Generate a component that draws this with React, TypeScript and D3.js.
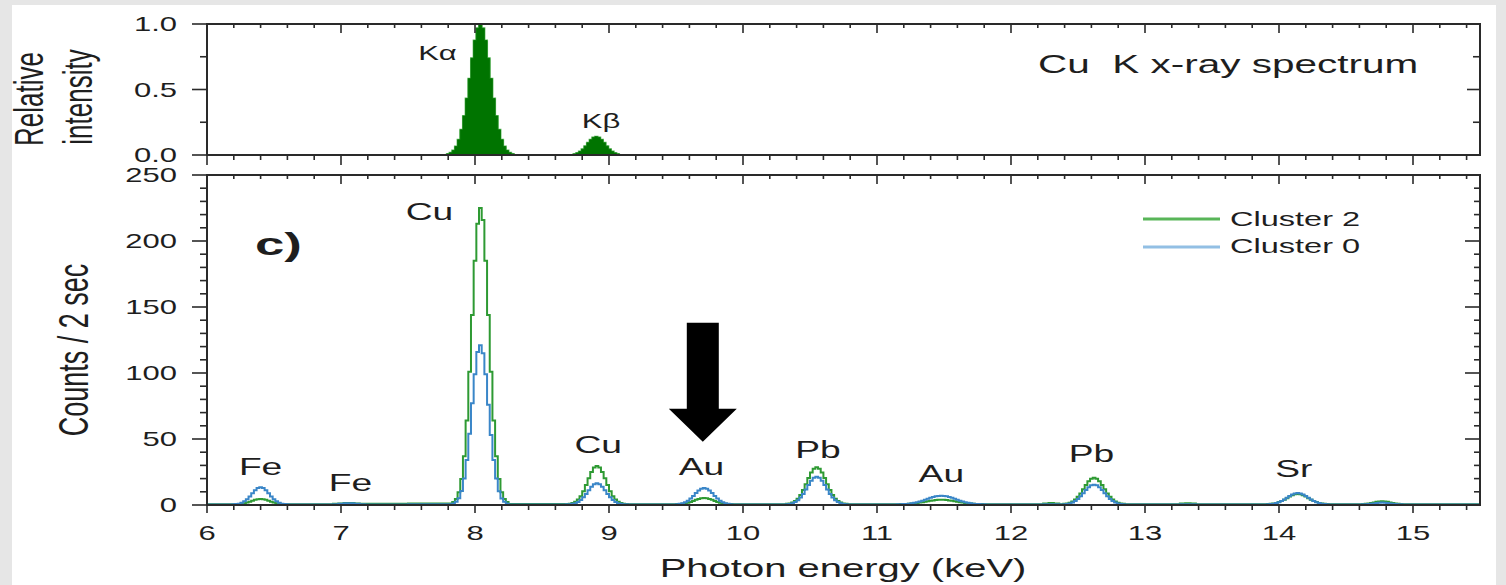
import React from "react";
import * as d3 from "d3";

// ---------- DATA ----------
// Bottom panel: step histogram, bin start energies (keV)
const energyKeV = [
  6.0,
  6.19, 6.21, 6.23, 6.25, 6.27, 6.29, 6.31, 6.33, 6.35, 6.37, 6.39, 6.41, 6.43, 6.45, 6.47, 6.49, 6.51, 6.53, 6.55, 6.57, 6.59,
  6.61,
  6.94, 6.98, 7.02, 7.06, 7.1, 7.14,
  7.18, 7.5,
  7.83, 7.85, 7.87, 7.89, 7.91, 7.93, 7.95, 7.97, 7.99, 8.01, 8.03, 8.05, 8.07, 8.09, 8.11, 8.13, 8.15, 8.17, 8.19, 8.21, 8.23,
  8.25,
  8.68, 8.7, 8.72, 8.74, 8.76, 8.78, 8.8, 8.82, 8.84, 8.86, 8.88, 8.9, 8.92, 8.94, 8.96, 8.98, 9.0, 9.02, 9.04, 9.06, 9.08, 9.1, 9.12,
  9.14,
  9.5, 9.52, 9.54, 9.56, 9.58, 9.6, 9.62, 9.64, 9.66, 9.68, 9.7, 9.72, 9.74, 9.76, 9.78, 9.8, 9.82, 9.84, 9.86, 9.88, 9.9,
  9.92,
  10.32, 10.34, 10.36, 10.38, 10.4, 10.42, 10.44, 10.46, 10.48, 10.5, 10.52, 10.54, 10.56, 10.58, 10.6, 10.62, 10.64, 10.66, 10.68, 10.7, 10.72, 10.74, 10.76,
  10.78,
  11.15, 11.17, 11.19, 11.21, 11.23, 11.25, 11.27, 11.29, 11.31, 11.33, 11.35, 11.37, 11.39, 11.41, 11.43, 11.45, 11.47,
  11.49, 11.51, 11.53, 11.55, 11.57, 11.59, 11.61, 11.63, 11.65, 11.67, 11.69, 11.71, 11.73, 11.75, 11.77, 11.79,
  11.81,
  12.24, 12.28, 12.32,
  12.36,
  12.39, 12.41, 12.43, 12.45, 12.47, 12.49, 12.51, 12.53, 12.55, 12.57, 12.59, 12.61, 12.63, 12.65, 12.67, 12.69, 12.71, 12.73, 12.75, 12.77, 12.79, 12.81, 12.83,
  12.85,
  13.26, 13.3, 13.34,
  13.38,
  13.91, 13.93, 13.95, 13.97, 13.99, 14.01, 14.03, 14.05, 14.07, 14.09, 14.11, 14.13, 14.15, 14.17, 14.19, 14.21, 14.23, 14.25, 14.27, 14.29, 14.31, 14.33, 14.35,
  14.37,
  14.62, 14.64, 14.66, 14.68, 14.7, 14.72, 14.74, 14.76, 14.78, 14.8, 14.82, 14.84, 14.86, 14.88, 14.9,
  14.92,
  15.5,
];

const cluster2Counts = [
  0.6,
  0.6, 0.7, 0.8, 1.0, 1.3, 1.8, 2.5, 3.2, 3.9, 4.4, 4.6, 4.4, 3.9, 3.2, 2.5, 1.8, 1.3, 1.0, 0.8, 0.7, 0.6,
  0.6,
  0.9, 1.2, 1.6, 1.6, 1.2, 0.9,
  1.0, 1.1,
  2.2, 4.6, 9.6, 19.7, 37, 64, 101, 144, 185, 213, 225, 216, 185, 144, 101, 64, 37, 19.7, 9.6, 4.6, 2.2,
  0.8,
  0.7, 1.0, 1.5, 2.4, 4.1, 6.7, 10.5, 15.1, 20.3, 25.0, 28.4, 29.6, 28.4, 25.0, 20.3, 15.1, 10.5, 6.7, 4.1, 2.4, 1.5, 1.0, 0.7,
  0.6,
  0.7, 0.8, 0.9, 1.2, 1.7, 2.3, 3.0, 3.9, 4.6, 5.1, 5.3, 5.1, 4.6, 3.9, 3.0, 2.3, 1.7, 1.2, 0.9, 0.8, 0.7,
  0.6,
  0.9, 1.2, 1.8, 3.0, 4.8, 7.6, 11.3, 15.7, 20.4, 24.6, 27.5, 28.6, 27.5, 24.6, 20.4, 15.7, 11.3, 7.6, 4.8, 3.0, 1.8, 1.2, 0.9,
  0.6,
  0.6, 0.7, 0.7, 0.8, 0.9, 1.1, 1.2, 1.5, 1.8, 2.1, 2.5, 2.8, 3.2, 3.5, 3.8, 3.9, 4.0,
  3.9, 3.8, 3.5, 3.2, 2.8, 2.5, 2.1, 1.8, 1.5, 1.2, 1.1, 0.9, 0.8, 0.7, 0.7, 0.6,
  0.6,
  1.2, 1.6, 1.2,
  0.6,
  0.9, 1.2, 1.7, 2.7, 4.1, 6.2, 8.8, 11.9, 15.1, 17.9, 19.9, 20.6, 19.9, 17.9, 15.1, 11.9, 8.8, 6.2, 4.1, 2.7, 1.7, 1.2, 0.9,
  0.6,
  1.2, 1.4, 1.2,
  0.6,
  0.7, 0.9, 1.1, 1.6, 2.2, 3.0, 4.0, 5.2, 6.4, 7.4, 8.2, 8.4, 8.2, 7.4, 6.4, 5.2, 4.0, 3.0, 2.2, 1.6, 1.1, 0.9, 0.7,
  0.6,
  0.7, 0.9, 1.1, 1.5, 1.9, 2.4, 2.7, 2.8, 2.7, 2.4, 1.9, 1.5, 1.1, 0.9, 0.7,
  0.6,
  0.6,
];

const cluster0Counts = [
  0.4,
  0.5, 0.7, 1.0, 1.7, 2.8, 4.4, 6.5, 8.9, 11.2, 12.8, 13.4, 12.8, 11.2, 8.9, 6.5, 4.4, 2.8, 1.7, 1.0, 0.7, 0.5,
  0.4,
  0.6, 1.0, 1.4, 1.4, 1.0, 0.6,
  0.4, 0.5,
  1.2, 2.5, 5.1, 10.6, 20, 34, 54, 77, 99, 116, 121, 115, 99, 76, 53, 34, 20, 10.4, 5, 2.4, 1.2,
  0.4,
  0.5, 0.6, 0.9, 1.4, 2.3, 3.8, 5.8, 8.4, 11.2, 13.9, 15.7, 16.4, 15.7, 13.9, 11.2, 8.4, 5.8, 3.8, 2.3, 1.4, 0.9, 0.6, 0.5,
  0.4,
  0.6, 0.9, 1.3, 2.1, 3.3, 4.9, 6.9, 9.1, 11.0, 12.4, 12.9, 12.4, 11.0, 9.1, 6.9, 4.9, 3.3, 2.1, 1.3, 0.9, 0.6,
  0.4,
  0.6, 0.8, 1.3, 2.2, 3.6, 5.6, 8.4, 11.7, 15.2, 18.4, 20.6, 21.4, 20.6, 18.4, 15.2, 11.7, 8.4, 5.6, 3.6, 2.2, 1.3, 0.8, 0.6,
  0.4,
  0.5, 0.6, 0.7, 0.8, 1.0, 1.3, 1.7, 2.1, 2.7, 3.3, 4.0, 4.8, 5.5, 6.1, 6.6, 6.9, 7.0,
  6.9, 6.6, 6.1, 5.5, 4.8, 4.0, 3.3, 2.7, 2.1, 1.7, 1.3, 1.0, 0.8, 0.7, 0.6, 0.5,
  0.4,
  0.5, 0.6, 0.5,
  0.4,
  0.6, 0.8, 1.2, 1.9, 3.0, 4.6, 6.6, 8.9, 11.3, 13.4, 14.9, 15.4, 14.9, 13.4, 11.3, 8.9, 6.6, 4.6, 3.0, 1.9, 1.2, 0.8, 0.6,
  0.4,
  0.5, 0.6, 0.5,
  0.4,
  0.6, 0.7, 1.0, 1.5, 2.1, 3.1, 4.2, 5.5, 6.9, 8.0, 8.8, 9.1, 8.8, 8.0, 6.9, 5.5, 4.2, 3.1, 2.1, 1.5, 1.0, 0.7, 0.6,
  0.4,
  0.5, 0.6, 0.8, 1.0, 1.2, 1.5, 1.7, 1.8, 1.7, 1.5, 1.2, 1.0, 0.8, 0.6, 0.5,
  0.4,
  0.4,
];

// Top panel: Cu K reference spectrum (relative intensity)
const refEnergyKeV = [
  6.0,
  7.79, 7.81, 7.83, 7.85, 7.87, 7.89, 7.91, 7.93, 7.95, 7.97, 7.99, 8.01, 8.03, 8.05, 8.07, 8.09, 8.11, 8.13, 8.15, 8.17, 8.19, 8.21, 8.23, 8.25, 8.27,
  8.29,
  8.735, 8.755, 8.775, 8.795, 8.815, 8.835, 8.855, 8.875, 8.895, 8.915, 8.935, 8.955, 8.975, 8.995, 9.015, 9.035, 9.055,
  9.075,
  15.5,
];
const refIntensity = [
  0,
  0.008, 0.017, 0.034, 0.065, 0.116, 0.192, 0.297, 0.431, 0.583, 0.738, 0.874, 0.967, 1.0, 0.967, 0.874, 0.738, 0.583, 0.431, 0.297, 0.192, 0.116, 0.065, 0.034, 0.017, 0.008,
  0,
  0.007, 0.015, 0.027, 0.044, 0.067, 0.093, 0.116, 0.134, 0.14, 0.134, 0.116, 0.093, 0.067, 0.044, 0.027, 0.015, 0.007,
  0,
  0,
];

const seriesNames = ["Cluster 2", "Cluster 0"];

// Annotations: [text, energy keV, counts level of text baseline]
const peakLabels: [string, number, number][] = [
  ["Fe", 6.4, 22.7],
  ["Fe", 7.07, 10.6],
  ["Cu", 7.66, 216],
  ["Cu", 8.92, 39.4],
  ["Au", 9.69, 22.7],
  ["Pb", 10.56, 35.6],
  ["Au", 11.48, 17.4],
  ["Pb", 12.6, 32.6],
  ["Sr", 14.11, 21.2],
];
const refLabels: [string, number, number][] = [
  ["Kα", 7.72, 0.725],
  ["Kβ", 8.94, 0.206],
];
const arrowEnergy = 9.7;
const arrowTopCounts = 138;
const arrowHeadCounts = 73;
const arrowTipCounts = 48;

// ---------- STYLE ----------
const FONT = "'Liberation Sans', Arial, Helvetica, sans-serif";
const SX = 1.55; // horizontal stretch of the original raster
const TXT = "#1e1e1e";
const AXIS = "#2a2a2a";
const GREEN = "#2e9a33";
const BLUE = "#3a86c8";
const FILL_GREEN = "#007400";

function T(props: {
  x: number; y: number; size: number; anchor?: string; sx?: number;
  weight?: string | number; rotate?: number; children: React.ReactNode;
}) {
  const { x, y, size, anchor = "start", sx = SX, weight = "normal", rotate } = props;
  const tr = `translate(${x},${y}) scale(${sx},1)` + (rotate ? ` rotate(${rotate})` : "");
  return (
    <text
      transform={tr}
      fontSize={size}
      textAnchor={anchor as any}
      fontFamily={FONT}
      fontWeight={weight as any}
      fill={TXT}
      style={{ whiteSpace: "pre" }}
    >
      {props.children}
    </text>
  );
}

export default function App() {
  const W = 1506, H = 585;
  const L = 207, R = 1480;
  const x = d3.scaleLinear().domain([6, 15.5]).range([L, R]);
  const yTop = d3.scaleLinear().domain([0, 1]).range([155, 24]);
  const yBot = d3.scaleLinear().domain([0, 250]).range([505, 175]);

  const xMajor = x.ticks(10);
  const xMinor = x.ticks(50).filter((v) => Math.abs(v - Math.round(v)) > 1e-6);
  const yBotMajor = yBot.ticks(5);
  const yBotMinor = yBot.ticks(25).filter((v) => v % 50 !== 0);
  const yTopMajor = yTop.ticks(2);
  const yTopMinor = d3.pairs(yTopMajor).map(([a, b]) => (a + b) / 2);

  const fmtTop = d3.format(".1f");
  const fmtInt = d3.format("d");

  type P = [number, number];
  const n = Math.min(energyKeV.length, cluster2Counts.length, cluster0Counts.length);
  const g2: P[] = energyKeV.slice(0, n).map((e, i) => [e, cluster2Counts[i]]);
  const g0: P[] = energyKeV.slice(0, n).map((e, i) => [e, cluster0Counts[i]]);
  const ref: P[] = refEnergyKeV.map((e, i) => [e, refIntensity[i]]);

  const lineBot = d3.line<P>().x((d) => x(d[0])).y((d) => yBot(d[1])).curve(d3.curveStepAfter);
  const lineTop = d3.line<P>().x((d) => x(d[0])).y((d) => yTop(d[1])).curve(d3.curveStepAfter);
  const areaTop = d3.area<P>().x((d) => x(d[0])).y0(yTop(0)).y1((d) => yTop(d[1])).curve(d3.curveStepAfter);

  const tickStroke = { stroke: AXIS, strokeWidth: 1.6 };

  const panelTicks = (
    yS: d3.ScaleLinear<number, number>,
    major: number[],
    minor: number[],
    top: number,
    bottom: number,
    o: { botMaj: number; botMin: number; topMaj: number; topMin: number; leftMaj: number; leftMin: number; rightMaj: number; rightMin: number }
  ) => (
    <g>
      {xMajor.map((v) => (
        <g key={"xM" + v}>
          <line x1={x(v)} x2={x(v)} y1={bottom} y2={bottom + o.botMaj} {...tickStroke} />
          <line x1={x(v)} x2={x(v)} y1={top} y2={top + o.topMaj} {...tickStroke} />
        </g>
      ))}
      {xMinor.map((v) => (
        <g key={"xm" + v}>
          <line x1={x(v)} x2={x(v)} y1={bottom} y2={bottom + o.botMin} {...tickStroke} />
          <line x1={x(v)} x2={x(v)} y1={top} y2={top + o.topMin} {...tickStroke} />
        </g>
      ))}
      {major.map((v) => (
        <g key={"yM" + v}>
          <line x1={L - o.leftMaj} x2={L} y1={yS(v)} y2={yS(v)} {...tickStroke} />
          <line x1={R - o.rightMaj} x2={R} y1={yS(v)} y2={yS(v)} {...tickStroke} />
        </g>
      ))}
      {minor.map((v) => (
        <g key={"ym" + v}>
          <line x1={L - o.leftMin} x2={L} y1={yS(v)} y2={yS(v)} {...tickStroke} />
          <line x1={R - o.rightMin} x2={R} y1={yS(v)} y2={yS(v)} {...tickStroke} />
        </g>
      ))}
      <rect x={L} y={top} width={R - L} height={bottom - top} fill="none" stroke={AXIS} strokeWidth={2} />
    </g>
  );

  const ax = x(arrowEnergy);
  const aTop = yBot(arrowTopCounts);
  const aHead = yBot(arrowHeadCounts);
  const aTip = yBot(arrowTipCounts);
  const shaftHalf = 16, headHalf = 34;
  const arrowPath = `M${ax - shaftHalf},${aTop} H${ax + shaftHalf} V${aHead} H${ax + headHalf} L${ax},${aTip} L${ax - headHalf},${aHead} H${ax - shaftHalf} Z`;

  return (
    <svg
      width={W}
      height={H}
      viewBox={`0 0 ${W} ${H}`}
      style={{ position: "absolute", left: 0, top: 0, display: "block" }}
    >
      <rect x={0} y={0} width={W} height={H} fill="#e6e6e6" />
      <rect x={12} y={5} width={1484} height={H - 5} fill="#ffffff" />

      <defs>
        <clipPath id="clipBot">
          <rect x={L} y={175} width={R - L} height={330} />
        </clipPath>
        <clipPath id="clipTop">
          <rect x={L} y={24} width={R - L} height={131} />
        </clipPath>
      </defs>

      {/* ---------- top panel ---------- */}
      <g clipPath="url(#clipTop)">
        <path d={lineTop(ref) || ""} fill="none" stroke="#5cb85c" strokeWidth={2} />
        <path d={areaTop(ref) || ""} fill={FILL_GREEN} stroke={FILL_GREEN} strokeWidth={0.8} />
      </g>
      {panelTicks(yTop, yTopMajor, yTopMinor, 24, 155, {
        botMaj: 10, botMin: 5, topMaj: 9, topMin: 4, leftMaj: 15, leftMin: 7, rightMaj: 13, rightMin: 7,
      })}
      {yTopMajor.map((v) => (
        <T key={"tl" + v} x={177} y={yTop(v) + 7} size={20} anchor="end">{fmtTop(v)}</T>
      ))}
      {refLabels.map(([t, e, v]) => (
        <T key={"rl" + t} x={x(e)} y={yTop(v)} size={20} anchor="middle">{t}</T>
      ))}
      <T x={1038} y={73} size={25} sx={1.62}>{"Cu  K x-ray spectrum"}</T>
      <T x={43} y={99} size={26} anchor="middle" rotate={-90}>Relative</T>
      <T x={92} y={97} size={26} anchor="middle" rotate={-90}>intensity</T>

      {/* ---------- bottom panel ---------- */}
      <g clipPath="url(#clipBot)">
        <path d={lineBot(g2) || ""} fill="none" stroke={GREEN} strokeWidth={2} />
        <path d={lineBot(g0) || ""} fill="none" stroke={BLUE} strokeWidth={2} />
      </g>
      {panelTicks(yBot, yBotMajor, yBotMinor, 175, 505, {
        botMaj: 8, botMin: 5, topMaj: 9, topMin: 4, leftMaj: 15, leftMin: 7, rightMaj: 15, rightMin: 6,
      })}
      {yBotMajor.map((v) => (
        <T key={"bl" + v} x={177} y={yBot(v) + 7} size={20} anchor="end">{fmtInt(v)}</T>
      ))}
      {xMajor.map((v) => (
        <T key={"xl" + v} x={x(v)} y={540} size={20} anchor="middle">{fmtInt(v)}</T>
      ))}
      {peakLabels.map(([t, e, c], i) => (
        <T key={"pl" + i} x={x(e)} y={yBot(c)} size={24} anchor="middle">{t}</T>
      ))}
      <T x={255} y={255} size={32} weight="bold" sx={1.65}>c)</T>
      <path d={arrowPath} fill="#000" />

      {/* legend */}
      <line x1={1143} x2={1220} y1={219} y2={219} stroke="#58b558" strokeWidth={3} />
      <line x1={1143} x2={1220} y1={247} y2={247} stroke="#92bfe4" strokeWidth={3} />
      <T x={1230} y={226} size={21}>{seriesNames[0]}</T>
      <T x={1230} y={253} size={21}>{seriesNames[1]}</T>

      {/* axis titles */}
      <T x={843} y={577} size={25} anchor="middle" sx={1.6}>Photon energy (keV)</T>
      <T x={88} y={350} size={27} anchor="middle" rotate={-90}>Counts / 2 sec</T>
    </svg>
  );
}
